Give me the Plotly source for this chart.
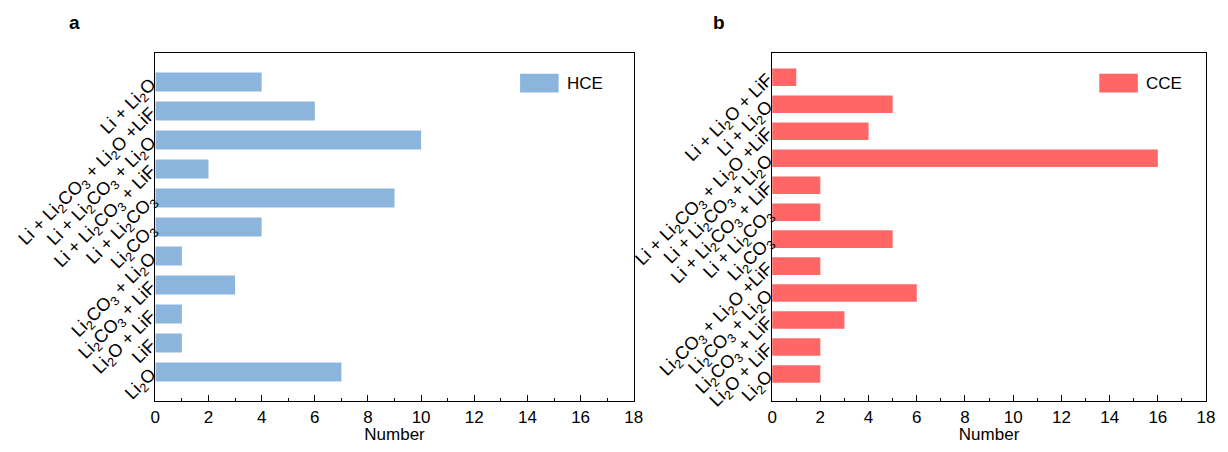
import plotly.graph_objects as go

# Panel a (HCE), listed top to bottom
hce_labels = [
    "Li + Li<sub>2</sub>O",
    "Li + Li<sub>2</sub>CO<sub>3</sub> + Li<sub>2</sub>O +LiF",
    "Li + Li<sub>2</sub>CO<sub>3</sub> + Li<sub>2</sub>O",
    "Li + Li<sub>2</sub>CO<sub>3</sub> + LiF",
    "Li + Li<sub>2</sub>CO<sub>3</sub>",
    "Li<sub>2</sub>CO<sub>3</sub>",
    "Li<sub>2</sub>CO<sub>3</sub> + Li<sub>2</sub>O",
    "Li<sub>2</sub>CO<sub>3</sub> + LiF",
    "Li<sub>2</sub>O + LiF",
    "LiF",
    "Li<sub>2</sub>O",
]
hce_values = [4, 6, 10, 2, 9, 4, 1, 3, 1, 1, 7]

# Panel b (CCE), listed top to bottom
cce_labels = [
    "Li + Li<sub>2</sub>O + LiF",
    "Li + Li<sub>2</sub>O",
    "Li + Li<sub>2</sub>CO<sub>3</sub> + Li<sub>2</sub>O +LiF",
    "Li + Li<sub>2</sub>CO<sub>3</sub> + Li<sub>2</sub>O",
    "Li + Li<sub>2</sub>CO<sub>3</sub> + LiF",
    "Li + Li<sub>2</sub>CO<sub>3</sub>",
    "Li<sub>2</sub>CO<sub>3</sub>",
    "Li<sub>2</sub>CO<sub>3</sub> + Li<sub>2</sub>O +LiF",
    "Li<sub>2</sub>CO<sub>3</sub> + Li<sub>2</sub>O",
    "Li<sub>2</sub>CO<sub>3</sub> + LiF",
    "Li<sub>2</sub>O + LiF",
    "Li<sub>2</sub>O",
]
cce_values = [1, 5, 4, 16, 2, 2, 5, 2, 6, 3, 2, 2]

x_ticks = list(range(0, 19, 2))

HCE_COLOR = "#8BB5DD"
CCE_COLOR = "#FF6666"
FONT = "Liberation Sans, Arial, Helvetica, sans-serif"

OFF = 8  # page body margin offset
W, H = 1228 - 2 * OFF, 452 - 2 * OFF
TOP, BOT = 53 - OFF, 405 - OFF
PH = BOT - TOP

def px(x):
    return (x - OFF) / W

def py(y):
    return 1 - (y - OFF - TOP) / PH

fig = go.Figure()
fig.add_trace(go.Bar(x=hce_values, y=list(range(len(hce_labels))), orientation="h",
                     marker=dict(color=HCE_COLOR, line=dict(width=0)), name="HCE",
                     xaxis="x", yaxis="y", showlegend=False))
fig.add_trace(go.Bar(x=cce_values, y=list(range(len(cce_labels))), orientation="h",
                     marker=dict(color=CCE_COLOR, line=dict(width=0)), name="CCE",
                     xaxis="x2", yaxis="y2", showlegend=False))

axis_common = dict(showline=True, linecolor="black", linewidth=1.3, mirror=True,
                   showgrid=False, zeroline=False)
xcommon = dict(axis_common, range=[0, 18], tickvals=x_ticks, ticks="inside", ticklen=6,
               tickwidth=1.3, tickcolor="black",
               minor=dict(ticks="inside", ticklen=3, dtick=1, tickcolor="black", tickwidth=1.3),
               tickfont=dict(size=17, color="black"),
               title=dict(text="Number", font=dict(size=17, color="black"), standoff=6))
L1, R1 = 152, 636
L2, R2 = 776, 1215
fig.update_layout(
    width=W, height=H,
    margin=dict(l=0, r=0, t=TOP, b=H - BOT),
    paper_bgcolor="white", plot_bgcolor="white",
    font=dict(family=FONT, color="black"),
    bargap=0.35,
    xaxis=dict(xcommon, domain=[px(L1), px(R1)], anchor="y"),
    xaxis2=dict(xcommon, domain=[px(L2), px(R2)], anchor="y2"),
    yaxis=dict(axis_common, range=[len(hce_labels), -1], tickvals=list(range(len(hce_labels))),
               ticktext=hce_labels, tickangle=-45, ticks="", tickfont=dict(size=18, color="black"),
               anchor="x", automargin=False),
    yaxis2=dict(axis_common, range=[len(cce_labels), -0.9], tickvals=list(range(len(cce_labels))),
                ticktext=cce_labels, tickangle=-45, ticks="", tickfont=dict(size=18, color="black"),
                anchor="x2", automargin=False),
)

# legends drawn as swatch + label
def legend(x0, label, color):
    fig.add_shape(type="rect", xref="paper", yref="paper",
                  x0=px(x0), x1=px(x0 + 39), y0=py(93), y1=py(74),
                  fillcolor=color, line=dict(width=0))
    fig.add_annotation(xref="paper", yref="paper", x=px(x0 + 45), y=py(83.5),
                       text=label, showarrow=False, xanchor="left", yanchor="middle",
                       font=dict(size=17, color="black"))

legend(521, "HCE", HCE_COLOR)
legend(1107, "CCE", CCE_COLOR)

for x, t in [(70, "a"), (722, "b")]:
    fig.add_annotation(xref="paper", yref="paper", x=px(x), y=py(22),
                       text="<b>%s</b>" % t, showarrow=False, xanchor="center", yanchor="middle",
                       font=dict(size=19, color="black"))

fig.write_html("out.html")
